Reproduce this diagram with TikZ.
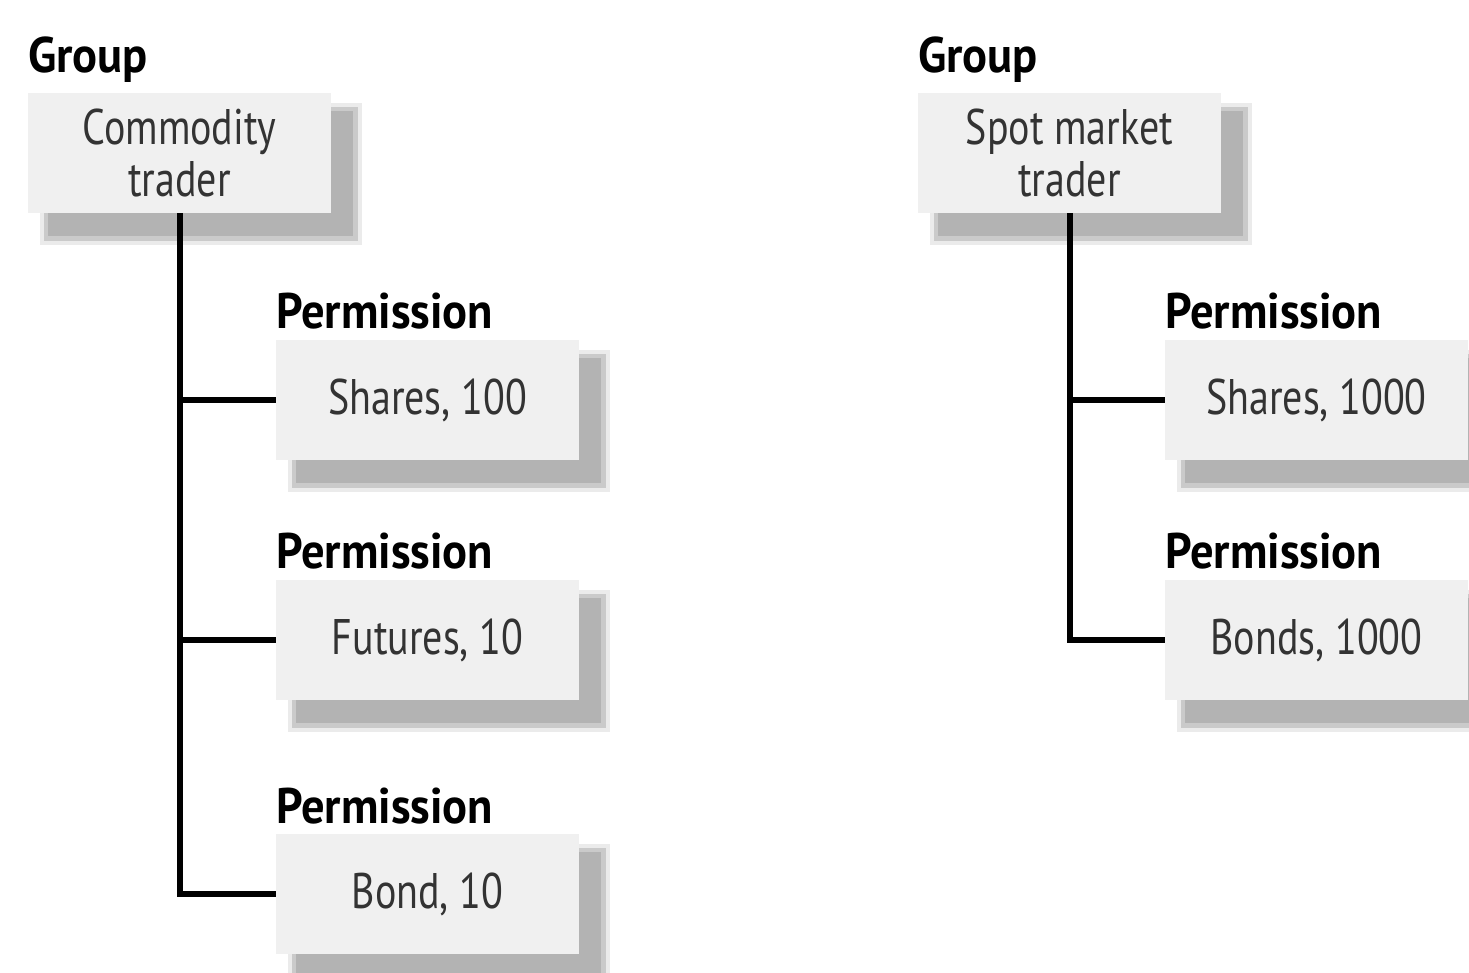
\documentclass[tikz,border=0pt]{standalone}
\usepackage{fontspec}
\setmainfont{PT Sans}[FakeStretch=0.8]
\newfontfamily\tagfont{PT Sans}[FakeStretch=0.93]
\usetikzlibrary{backgrounds}
\definecolor{boxfill}{HTML}{F0F0F0}
\definecolor{shadeA}{HTML}{EBEBEB}
\definecolor{shadeB}{HTML}{CACACA}
\definecolor{shadeC}{HTML}{B3B3B3}
\definecolor{boxtext}{HTML}{333333}
\newcommand\boxshadow[1]{%
  \fill[shadeA] ([shift={(12,10)}]#1.north west) rectangle ([shift={(31,32)}]#1.south east);
  \fill[shadeB] ([shift={(16,14)}]#1.north west) rectangle ([shift={(27,28)}]#1.south east);
  \fill[shadeC] ([shift={(20,18)}]#1.north west) rectangle ([shift={(22,23)}]#1.south east);}
\begin{document}
\begin{tikzpicture}[x=1pt,y=-1pt,
  box/.style={fill=boxfill, minimum width=303pt, minimum height=120pt,
    inner sep=0pt, align=center, text=boxtext, font=\fontsize{50}{52}\selectfont},
  tag/.style={anchor=base west, inner sep=0pt, font=\fontsize{50}{52}\selectfont\tagfont\bfseries},
  conn/.style={line width=6pt, line join=miter, black}]
\useasboundingbox (0,0) rectangle (1469,972);

% left tree
\node[box] (ct) at (179.5,153) {Commodity\\trader};
\node[box] (sh) at (427.5,400) {Shares, 100};
\node[box] (fu) at (427.5,640) {Futures, 10};
\node[box] (bo) at (427.5,894) {Bond, 10};
\node[tag] (g1) at (28,72) {Group};
\node[tag] (p1) at (276,328) {Permission};
\node[tag] (p2) at (276,568) {Permission};
\node[tag] (p3) at (276,823) {Permission};

% right tree
\node[box] (sm) at (1069.5,153) {Spot market\\trader};
\node[box] (sh2) at (1316.5,400) {Shares, 1000};
\node[box] (bd2) at (1316.5,640) {Bonds, 1000};
\node[tag] (g2) at (918,72) {Group};
\node[tag] (p4) at (1165,328) {Permission};
\node[tag] (p5) at (1165,568) {Permission};

\begin{scope}[on background layer]
  \boxshadow{ct}\boxshadow{sh}\boxshadow{fu}\boxshadow{bo}
  \boxshadow{sm}\boxshadow{sh2}\boxshadow{bd2}
  \draw[conn] (ct.south) -- (ct.south |- bo.west) -- (bo.west);
  \draw[conn] (ct.south |- sh.west) -- (sh.west);
  \draw[conn] (ct.south |- fu.west) -- (fu.west);
  \draw[conn] (sm.south) -- (sm.south |- bd2.west) -- (bd2.west);
  \draw[conn] (sm.south |- sh2.west) -- (sh2.west);
\end{scope}
\end{tikzpicture}
\end{document}
